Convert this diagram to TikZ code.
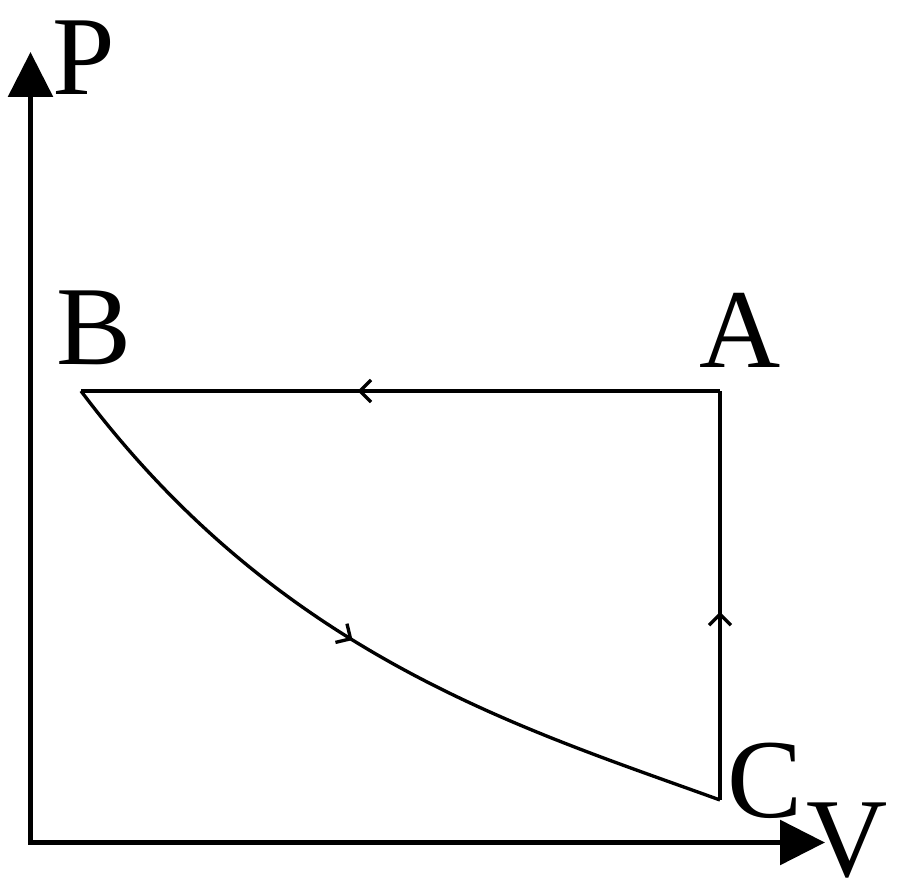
\documentclass[tikz,border=0pt]{standalone}
\usepackage{fontspec}
\setmainfont{Liberation Serif}
\usetikzlibrary{arrows.meta,decorations.markings}
\begin{document}
\begin{tikzpicture}[
  axis/.style={line width=3.4pt,{Triangle[length=0.9cm,width=0.88cm]}-{Triangle[length=0.9cm,width=0.88cm]}},
  cycle/.style={line width=1.9pt,line join=miter},
  flow/.style={postaction={decorate},
    decoration={markings,mark=at position #1 with {\arrow{Straight Barb[length=0.22cm,width=0.44cm]}}}},
  letter/.style={inner sep=0pt,anchor=base,font=\fontsize{64}{64}\selectfont}
  ]
  \useasboundingbox (0,0) rectangle (18,17.86);

  % axes
  \coordinate (O) at (0.61,1.01);
  \coordinate (Ptip) at (0.61,16.82);
  \coordinate (Vtip) at (16.5,1.01);
  \draw[axis] (Ptip) |- (Vtip);
  \node[letter] (P) at (1.68,15.96) {P};
  \node[letter] (V) at (16.94,0.32) {V};

  % states
  \coordinate (a) at (14.4,10.04);
  \coordinate (b) at (1.62,10.04);
  \coordinate (c) at (14.4,1.86);
  \node[letter] (A) at (14.8,10.5) {A};
  \node[letter] (B) at (1.88,10.56) {B};
  \node[letter] (C) at (15.3,1.5) {C};

  % cycle
  \draw[cycle,flow=0.567] (a) -- (b);
  \draw[cycle,flow=0.48] (b) .. controls (5.6,4.74) and (10.42,3.3) .. (c);
  \draw[cycle,flow=0.46] (c) -- (a);
\end{tikzpicture}
\end{document}
